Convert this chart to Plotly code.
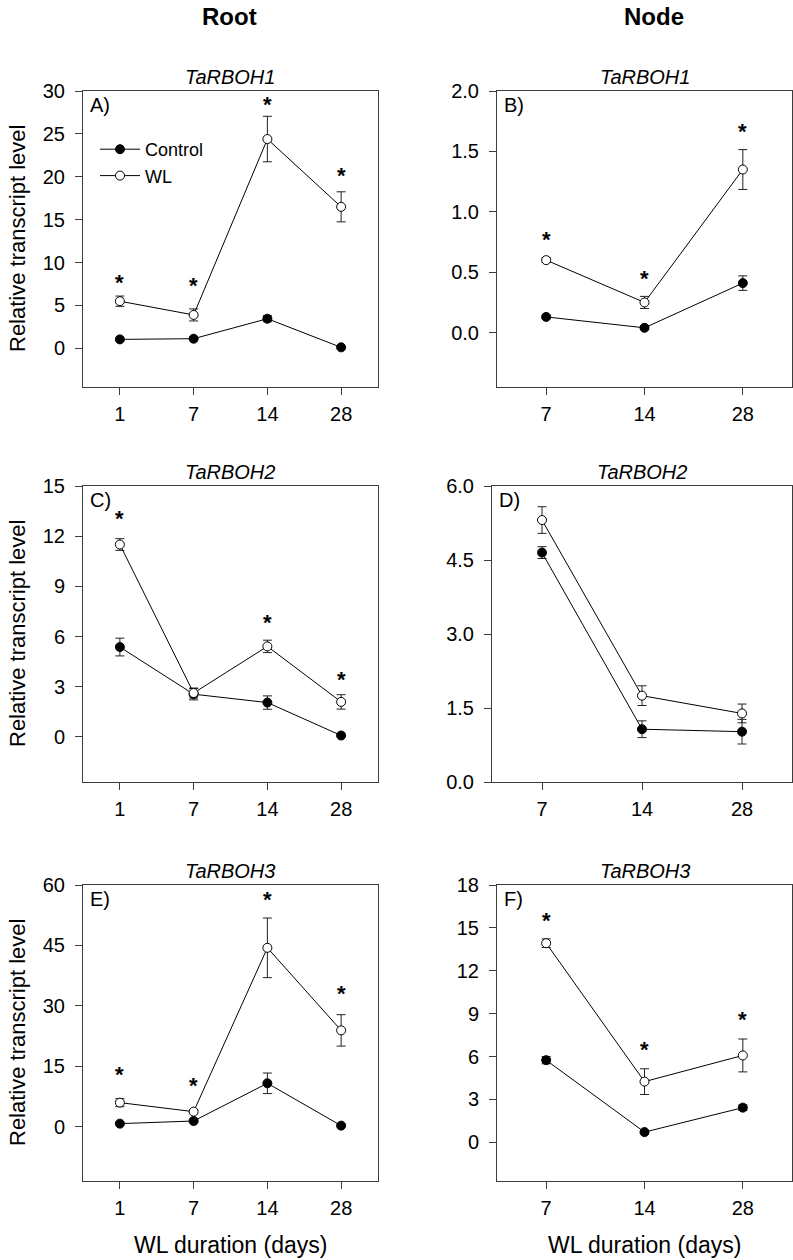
import plotly.graph_objects as go

# ---------------- data ----------------
days_root = ["1", "7", "14", "28"]
days_node = ["7", "14", "28"]

# Panel A: Root TaRBOH1
A_ctrl = [1.05, 1.13, 3.46, 0.12]
A_ctrl_err = [0.15, 0.12, 0.35, 0.05]
A_wl = [5.5, 3.9, 24.4, 16.5]
A_wl_err = [0.6, 0.7, 2.65, 1.75]
A_star = [7.7, 7.3, 28.45, 20.1]

# Panel B: Node TaRBOH1
B_ctrl = [0.13, 0.04, 0.41]
B_ctrl_err = [0.015, 0.012, 0.06]
B_wl = [0.60, 0.25, 1.35]
B_wl_err = [0.02, 0.05, 0.165]
B_star = [0.77, 0.444, 1.666]

# Panel C: Root TaRBOH2
C_ctrl = [5.37, 2.55, 2.05, 0.08]
C_ctrl_err = [0.53, 0.34, 0.40, 0.05]
C_wl = [11.5, 2.62, 5.41, 2.09]
C_wl_err = [0.35, 0.30, 0.37, 0.43]
C_star = [13.03, None, 6.82, 3.45]

# Panel D: Node TaRBOH2
D_ctrl = [4.65, 1.07, 1.02]
D_ctrl_err = [0.12, 0.17, 0.25]
D_wl = [5.31, 1.75, 1.39]
D_wl_err = [0.27, 0.20, 0.19]
D_star = [None, None, None]

# Panel E: Root TaRBOH3
E_ctrl = [0.74, 1.4, 10.76, 0.25]
E_ctrl_err = [0.2, 0.3, 2.55, 0.1]
E_wl = [5.96, 3.72, 44.4, 23.9]
E_wl_err = [1.0, 0.5, 7.4, 3.9]
E_star = [12.83, 10.1, 56.5, 33.1]

# Panel F: Node TaRBOH3
F_ctrl = [5.75, 0.72, 2.43]
F_ctrl_err = [0.25, 0.1, 0.2]
F_wl = [13.93, 4.25, 6.08]
F_wl_err = [0.3, 0.9, 1.15]
F_star = [15.52, 6.47, 8.56]

gene_titles = ["TaRBOH1", "TaRBOH1", "TaRBOH2", "TaRBOH2", "TaRBOH3", "TaRBOH3"]
panel_letters = ["A)", "B)", "C)", "D)", "E)", "F)"]
col_titles = ["Root", "Node"]
y_title = "Relative transcript level"
x_title = "WL duration (days)"

y_ranges = [[-4.5, 30], [-0.45, 2.0], [-2.7, 15], [0, 6], [-13.5, 60], [-2.7, 18]]
y_dticks = [5, 0.5, 3, 1.5, 15, 3]
y_formats = ["d", ".1f", "d", ".1f", "d", "d"]

# ---------------- layout geometry (pixels) ----------------
W, H = 793, 1260
FONT = "Liberation Sans, Arial, sans-serif"
col_x = [(83, 378), (497, 792)]
row_y = [(91, 387), (486, 782), (885, 1181)]
AX = "#3c3c3c"

panels = [
    (days_root, A_ctrl, A_ctrl_err, A_wl, A_wl_err, A_star),
    (days_node, B_ctrl, B_ctrl_err, B_wl, B_wl_err, B_star),
    (days_root, C_ctrl, C_ctrl_err, C_wl, C_wl_err, C_star),
    (days_node, D_ctrl, D_ctrl_err, D_wl, D_wl_err, D_star),
    (days_root, E_ctrl, E_ctrl_err, E_wl, E_wl_err, E_star),
    (days_node, F_ctrl, F_ctrl_err, F_wl, F_wl_err, F_star),
]

fig = go.Figure()
layout = dict(
    template="none",
    width=W, height=H, margin=dict(l=0, r=0, t=0, b=0, pad=0, autoexpand=False),
    paper_bgcolor="white", plot_bgcolor="white",
    font=dict(family=FONT, color="black"),
    showlegend=True,
    legend=dict(x=95 / W, y=1 - 131 / H, xanchor="left", yanchor="top",
                font=dict(size=18, family=FONT), bgcolor="rgba(0,0,0,0)",
                borderwidth=0, tracegroupgap=0, itemwidth=40),
)
annotations = []

for i, (cats, ctrl, ctrl_err, wl, wl_err, star) in enumerate(panels):
    r, c = divmod(i, 2)
    x0, x1 = col_x[c]
    if i == 3:
        x0 = 492
    y0, y1 = row_y[r]
    n = i + 1
    xa = "x" if n == 1 else f"x{n}"
    ya = "y" if n == 1 else f"y{n}"
    idx = list(range(len(cats)))

    layout["xaxis" if n == 1 else f"xaxis{n}"] = dict(
        domain=[x0 / W, x1 / W], anchor=ya, range=[-0.5, len(cats) - 0.5],
        tickvals=idx, ticktext=cats, showgrid=False, zeroline=False, automargin=False,
        showline=True, mirror=True, linecolor=AX, linewidth=1,
        ticks="outside", ticklen=7, tickcolor=AX, tickwidth=1,
        tickfont=dict(size=20, family=FONT, color="black"), ticklabelstandoff=2,
    )
    layout["yaxis" if n == 1 else f"yaxis{n}"] = dict(
        domain=[1 - y1 / H, 1 - y0 / H], anchor=xa, range=y_ranges[i],
        tick0=0, dtick=y_dticks[i], tickformat=y_formats[i],
        showgrid=False, zeroline=False, automargin=False,
        showline=True, mirror=True, linecolor=AX, linewidth=1,
        ticks="outside", ticklen=7, tickcolor=AX, tickwidth=1,
        tickfont=dict(size=20, family=FONT, color="black"), ticklabelstandoff=6,
    )

    fig.add_trace(go.Scatter(
        x=idx, y=ctrl, xaxis=xa, yaxis=ya, mode="lines+markers", name="Control",
        line=dict(color="black", width=1),
        marker=dict(symbol="circle", size=9, color="black", line=dict(color="black", width=1)),
        error_y=dict(type="data", array=ctrl_err, visible=True, color="#222222", thickness=1, width=4.5),
        showlegend=(i == 0), legendrank=1,
    ))
    fig.add_trace(go.Scatter(
        x=idx, y=wl, xaxis=xa, yaxis=ya, mode="lines+markers", name="WL",
        line=dict(color="black", width=1),
        marker=dict(symbol="circle", size=9, color="white", line=dict(color="black", width=1)),
        error_y=dict(type="data", array=wl_err, visible=True, color="#222222", thickness=1, width=4.5),
        showlegend=(i == 0), legendrank=2,
    ))

    # significance marks
    for k, s in enumerate(star):
        if s is not None:
            annotations.append(dict(
                x=idx[k], y=s, xref=xa, yref=ya, text="<b>*</b>", showarrow=False,
                font=dict(size=22, family=FONT, color="black"),
                xanchor="center", yanchor="middle", yshift=0,
            ))

    # gene title
    annotations.append(dict(
        x=((x0 + x1) / 2) / W, y=1 - y0 / H, xref="paper", yref="paper",
        text=f"<i>{gene_titles[i]}</i>", showarrow=False,
        font=dict(size=20, family=FONT, color="black"),
        xanchor="center", yanchor="middle", yshift=14,
    ))
    # panel letter
    annotations.append(dict(
        x=x0 / W, y=1 - y0 / H, xref="paper", yref="paper",
        text=panel_letters[i], showarrow=False,
        font=dict(size=20, family=FONT, color="black"),
        xanchor="left", yanchor="top", xshift=5, yshift=-1,
    ))

# y-axis titles (left column)
for r in range(3):
    y0, y1 = row_y[r]
    annotations.append(dict(
        x=17 / W, y=1 - ((y0 + y1) / 2) / H, xref="paper", yref="paper",
        text=y_title, textangle=-90, showarrow=False,
        font=dict(size=22, family=FONT, color="black"),
        xanchor="center", yanchor="middle",
    ))

# x-axis titles (bottom row)
for c in range(2):
    x0, x1 = col_x[c]
    annotations.append(dict(
        x=((x0 + x1) / 2) / W, y=1 - 1245 / H, xref="paper", yref="paper",
        text=x_title, showarrow=False,
        font=dict(size=23, family=FONT, color="black"),
        xanchor="center", yanchor="middle",
    ))

# column titles
for c, cx in enumerate([229.5, 654]):
    annotations.append(dict(
        x=cx / W, y=1, xref="paper", yref="paper",
        text=f"<b>{col_titles[c]}</b>", showarrow=False,
        font=dict(size=24, family=FONT, color="black"),
        xanchor="center", yanchor="top", yshift=-1,
    ))

layout["annotations"] = annotations
fig.update_layout(**layout)
fig.write_html("out.html", config={"displayModeBar": False},
               post_script="document.body.style.margin='0';")
